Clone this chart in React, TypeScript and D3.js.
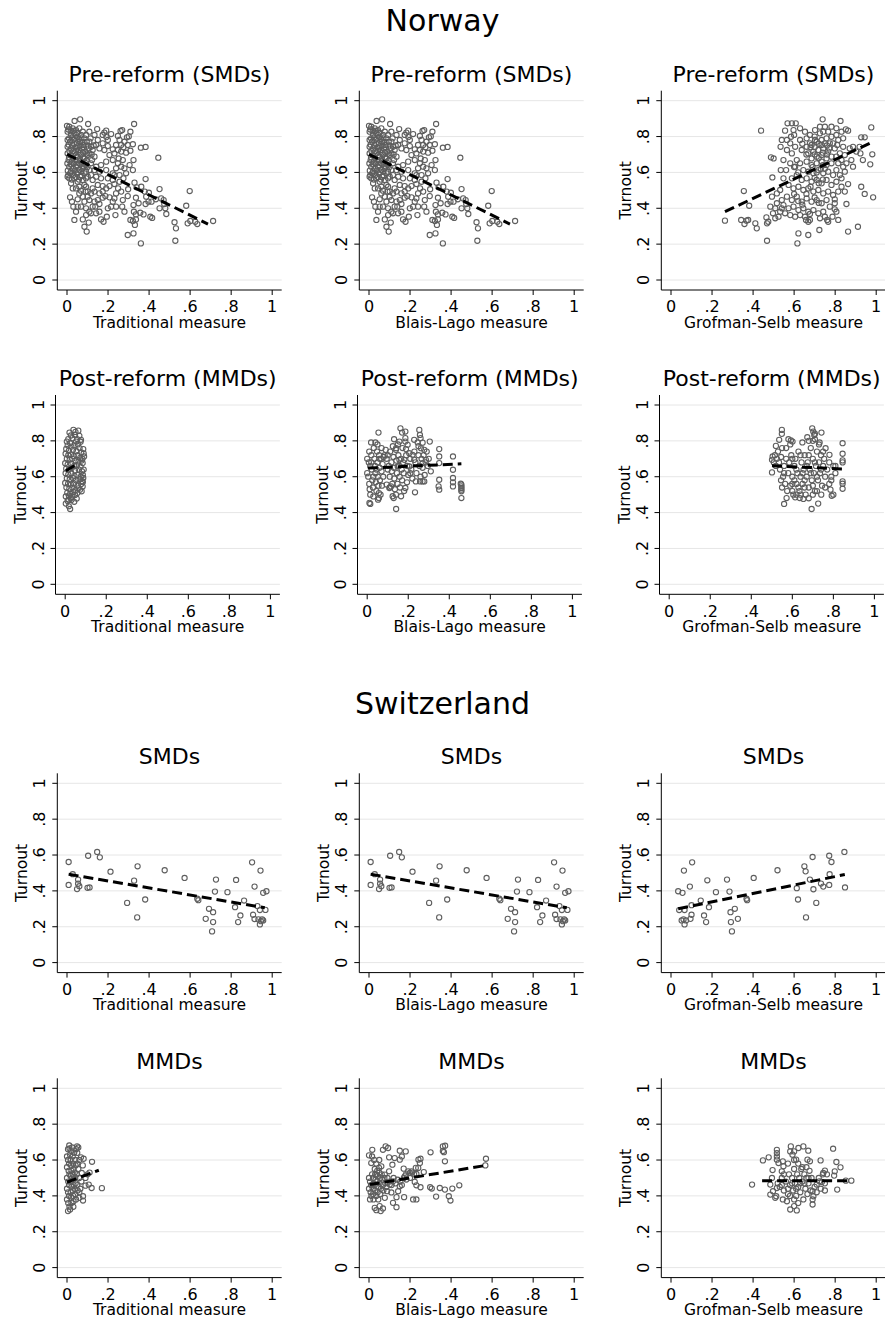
import React from 'react';
import * as d3 from 'd3';

const W = 885, H = 1322;
const FONT = '"DejaVu Sans", Verdana, sans-serif';

const countryTitles = ['Norway', 'Switzerland'];
const rowTitles = ['Pre-reform (SMDs)', 'Post-reform (MMDs)', 'SMDs', 'MMDs'];
const xTitles = ['Traditional measure', 'Blais-Lago measure', 'Grofman-Selb measure'];
const tickValues = [0, 0.2, 0.4, 0.6, 0.8, 1];
const tickLabels = ['0', '.2', '.4', '.6', '.8', '1'];

// ---- data: flat [x, y, x, y, ...] ----
const norPreTrad = [
0.064,0.896,0.037,0.887,0.103,0.870,0.327,0.870,0.147,0.842,0.182,0.822,0.261,0.831,0.269,0.836,0.309,0.827,0.301,0.801,0.292,0.796,0.192,0.797,0.36,0.738,0.383,0.742,0.321,0.757,0.309,0.721,0.324,0.669,0.445,0.682,0.275,0.74,0.288,0.71,0.248,0.725,0.321,0.613,0.288,0.595,0.383,0.563,0.329,0.543,0.362,0.52,0.339,0.517,0.298,0.506,0.379,0.493,0.399,0.487,0.451,0.507,0.598,0.496,0.386,0.465,0.336,0.459,0.296,0.468,0.272,0.446,0.324,0.418,0.349,0.428,0.383,0.424,0.397,0.437,0.412,0.437,0.433,0.45,0.459,0.455,0.471,0.446,0.474,0.424,0.479,0.4,0.484,0.368,0.451,0.4,0.581,0.414,0.326,0.381,0.336,0.366,0.357,0.375,0.373,0.366,0.406,0.353,0.415,0.346,0.336,0.338,0.321,0.329,0.309,0.335,0.331,0.307,0.524,0.322,0.531,0.288,0.528,0.219,0.588,0.316,0.601,0.329,0.625,0.325,0.635,0.312,0.712,0.329,0.296,0.251,0.324,0.26,0.36,0.204,0.096,0.27,0.085,0.297,0.106,0.32,0.036,0.335,0.077,0.338,0.093,0.362,0.109,0.381,0.044,0.381,0.052,0.409,0.142,0.372,0.158,0.381,0.166,0.338,0.178,0.325,0.194,0.353,0.138,0.409,0.158,0.424,0.199,0.4,0.215,0.409,0.236,0.362,0.239,0.409,0.223,0.437,0.231,0.455,0.207,0.461,0.174,0.459,0.134,0.437,0.109,0.446,0.077,0.465,0.015,0.461,0.06,0.483,0.028,0.511,0.02,0.539,0.06,0.52,0.003,0.576,0.011,0.567,0.085,0.53,0.101,0.493,0.125,0.511,0.15,0.53,0.174,0.524,0.191,0.511,0.207,0.524,0.231,0.535,0.249,0.511,0.256,0.548,0.223,0.558,0.199,0.567,0.166,0.567,0.142,0.576,0.117,0.585,0.093,0.567,0.223,0.595,0.191,0.613,0.158,0.604,0.239,0.623,0.248,0.651,0.223,0.669,0.191,0.66,0.166,0.641,0.142,0.632,0.122,0.669,0.093,0.651,0.207,0.697,0.231,0.706,0.182,0.725,0.158,0.734,0.142,0.753,0.174,0.762,0.199,0.747,0.223,0.729,0.239,0.753,0.15,0.781,0.134,0.809,0.109,0.827,0.174,0.809,0.199,0.781,0.191,0.833,
0,0.86,0.011,0.855,0.028,0.846,0.044,0.836,0.06,0.846,0.077,0.827,0.003,0.827,0.02,0.809,0.036,0.818,0.052,0.799,0.068,0.809,0.085,0.79,0.093,0.809,0.003,0.781,0.015,0.771,0.031,0.781,0.047,0.762,0.064,0.771,0.08,0.753,0.096,0.771,0.003,0.743,0.02,0.734,0.041,0.74,0.057,0.725,0.073,0.734,0.09,0.716,0.106,0.734,0.003,0.706,0.02,0.697,0.036,0.706,0.052,0.688,0.068,0.697,0.085,0.678,0.101,0.697,0.008,0.669,0.024,0.66,0.041,0.669,0.057,0.651,0.073,0.66,0.09,0.641,0.011,0.632,0.028,0.623,0.044,0.632,0.06,0.613,0.077,0.623,0.093,0.604,0.015,0.595,0.031,0.585,0.047,0.595,0.064,0.576,0.036,0.567,0.052,0.548,0.109,0.771,0.117,0.743,0.125,0.725,0.109,0.706,0.134,0.688,0.117,0.651,0.134,0.613,0.109,0.613,0.101,0.576,0.077,0.558,0.125,0.558,0.044,0.511,0.068,0.498,0.09,0.493,0.093,0.52,0.117,0.483,0.134,0.493,0.158,0.483,0.174,0.493,0.187,0.468,0.15,0.446,0.125,0.409,0.117,0.372,0.093,0.4,0.068,0.409,0.085,0.437,0.101,0.465,0.052,0.45,0.031,0.409,0.024,0.437,
0.248,0.803,0.215,0.814,0.256,0.781,0.264,0.753,0.28,0.771,0.296,0.753,0.264,0.716,0.252,0.678,0.272,0.669,0.264,0.632,0.28,0.623,0.305,0.641,0.231,0.585,0.256,0.585,0.275,0.567,0.264,0.493,0.239,0.483,0.269,0.409,0.28,0.381,
0.006,0.84,0.018,0.83,0.032,0.832,0.05,0.82,0.07,0.79,0.01,0.79,0.025,0.795,0.04,0.79,0.058,0.785,0.075,0.77,0.008,0.755,0.026,0.752,0.036,0.758,0.05,0.745,0.066,0.75,0.082,0.74,0.012,0.72,0.03,0.718,0.045,0.722,0.062,0.71,0.078,0.712,0.095,0.705,0.01,0.685,0.028,0.68,0.046,0.685,0.062,0.675,0.078,0.68,0.095,0.665,0.002,0.65,0.018,0.645,0.034,0.65,0.05,0.64,0.066,0.645,0.082,0.635,0.004,0.61,0.02,0.605,0.038,0.61,0.054,0.6,0.07,0.605,0.085,0.595,0.006,0.585,0.024,0.56,0.042,0.575,0.058,0.56,0.072,0.58,0.1,0.63,0.1,0.75,0.115,0.79,0.12,0.7,0.13,0.75
];
const norPreBL = norPreTrad;

const norPreGS = [
0.263,0.331,0.342,0.335,0.355,0.496,0.358,0.312,0.368,0.331,0.376,0.335,0.381,0.414,0.411,0.316,0.418,0.288,0.468,0.219,0.439,0.833,0.465,0.349,0.468,0.316,0.474,0.325,0.484,0.409,0.497,0.372,0.494,0.572,0.5,0.678,0.487,0.684,0.492,0.465,0.508,0.344,0.516,0.483,0.524,0.353,0.532,0.381,0.54,0.4,0.535,0.613,0.534,0.743,0.548,0.567,0.561,0.613,0.568,0.874,0.589,0.874,0.608,0.874,0.556,0.833,0.585,0.799,0.6,0.809,0.621,0.26,0.616,0.204,0.669,0.251,0.658,0.335,0.669,0.325,0.677,0.335,0.739,0.896,0.826,0.887,0.852,0.84,0.863,0.833,0.976,0.851,0.927,0.796,0.944,0.796,0.981,0.701,0.935,0.669,0.923,0.706,0.971,0.645,0.927,0.52,0.944,0.48,0.985,0.461,0.847,0.493,0.855,0.424,0.863,0.535,0.815,0.335,0.806,0.381,0.798,0.394,0.766,0.325,0.761,0.335,0.787,0.353,0.798,0.45,0.771,0.734,0.79,0.762,0.81,0.753,0.839,0.743,0.871,0.734,0.887,0.743,0.903,0.716,0.919,0.743,0.831,0.669,0.855,0.651,0.879,0.669,0.887,0.632,0.847,0.604,0.823,0.585,0.806,0.613,0.831,0.567,0.863,0.27,0.911,0.297,0.723,0.279,
0.581,0.762,0.605,0.743,0.629,0.781,0.653,0.827,0.677,0.809,0.702,0.836,0.726,0.818,0.75,0.855,0.766,0.827,0.782,0.855,0.806,0.846,0.831,0.827,0.637,0.725,0.661,0.743,0.685,0.753,0.71,0.771,0.734,0.781,0.758,0.79,0.782,0.799,0.806,0.809,0.669,0.706,0.694,0.716,0.718,0.725,0.742,0.734,0.766,0.716,0.685,0.678,0.71,0.688,0.734,0.697,0.758,0.678,0.782,0.688,0.806,0.688,0.661,0.66,0.685,0.641,0.71,0.651,0.734,0.66,0.758,0.641,0.782,0.651,0.613,0.669,0.589,0.706,0.565,0.725,0.581,0.651,0.605,0.632,0.629,0.651,0.645,0.613,0.669,0.604,0.694,0.595,0.718,0.613,0.742,0.595,0.766,0.604,0.79,0.585,0.613,0.585,0.589,0.567,0.637,0.558,0.661,0.567,0.685,0.548,0.71,0.558,0.734,0.539,0.758,0.558,0.782,0.53,0.573,0.53,0.597,0.511,0.621,0.52,0.645,0.502,0.669,0.511,0.694,0.493,0.718,0.502,0.742,0.483,0.766,0.493,0.79,0.474,0.565,0.465,0.589,0.446,0.613,0.465,0.637,0.437,0.661,0.455,0.685,0.437,0.71,0.446,0.734,0.428,0.758,0.446,0.548,0.418,0.573,0.4,0.597,0.409,0.621,0.39,0.645,0.4,0.669,0.381,0.694,0.39,0.718,0.372,0.742,0.381,0.556,0.372,0.581,0.362,0.605,0.353,0.629,0.362,0.653,0.353,0.677,0.368,0.54,0.446,0.516,0.428,0.508,0.4,0.532,0.502,0.548,0.669,0.565,0.781,0.54,0.781,0.597,0.836,0.629,0.846,0.774,0.762,0.815,0.781,0.839,0.79,0.734,0.753,0.75,0.762,0.702,0.781,0.726,0.855,0.661,0.79,0.677,0.762,0.742,0.827,0.798,0.734,0.823,0.706,0.847,0.697,0.815,0.651,0.839,0.632,0.806,0.548,0.831,0.52,0.815,0.493,0.798,0.428,0.774,0.409,0.75,0.353,0.726,0.344,
0.7,0.74,0.72,0.76,0.74,0.71,0.76,0.75,0.7,0.7,0.72,0.68,0.74,0.64,0.76,0.7,0.69,0.63,0.71,0.6,0.73,0.62,0.75,0.62,0.7,0.57,0.72,0.54,0.74,0.56,0.68,0.52,0.66,0.48,0.7,0.46,0.72,0.43,0.64,0.42,0.62,0.44,0.6,0.48,0.62,0.6,0.6,0.63,0.66,0.7,0.64,0.76,0.7,0.8,0.68,0.74
];

const norPostTrad = [
0.003,0.45,0.018,0.435,0.024,0.42,0.016,0.472,0.027,0.481,0.056,0.478,0.04,0.861,0.064,0.857,0.021,0.846,0.048,0.833,0.069,0.828,0.077,0.806,0.008,0.796,0.024,0.787,0.053,0.796,0.088,0.754,0.092,0.713,0.085,0.676,0.088,0.593,0.085,0.546,0.08,0.519,0.072,0.528,0.059,0.509,0.035,0.815,0.012,0.775,0.03,0.768,0.045,0.775,0.062,0.78,0.07,0.76,0.005,0.755,0.018,0.745,0.038,0.75,0.055,0.742,0.078,0.735,0.002,0.728,0.015,0.72,0.028,0.725,0.042,0.715,0.06,0.72,0.073,0.705,0.008,0.7,0.022,0.695,0.035,0.7,0.05,0.69,0.065,0.685,0.08,0.69,0.0,0.675,0.012,0.668,0.028,0.672,0.044,0.66,0.058,0.665,0.075,0.655,0.005,0.645,0.018,0.64,0.032,0.648,0.048,0.635,0.066,0.64,0.082,0.63,0.002,0.62,0.015,0.612,0.03,0.618,0.045,0.605,0.06,0.61,0.076,0.6,0.008,0.59,0.022,0.585,0.038,0.592,0.052,0.58,0.07,0.585,0.083,0.575,0.0,0.565,0.014,0.56,0.028,0.556,0.044,0.562,0.06,0.55,0.078,0.56,0.006,0.54,0.02,0.532,0.035,0.538,0.05,0.525,0.065,0.535,0.01,0.51,0.025,0.505,0.04,0.515,0.003,0.49,0.018,0.495,0.033,0.488,0.048,0.498,0.012,0.465,0.03,0.47,0.044,0.46,0.086,0.61,0.09,0.64,0.084,0.7,0.09,0.73,0.086,0.57,0.075,0.795,0.058,0.81,0.028,0.83,0.015,0.81,0.05,0.85
];

const norPostBL = [
0.055,0.846,0.015,0.448,0.011,0.454,0.019,0.791,0.04,0.791,0.057,0.509,0.057,0.481,0.053,0.472,0.095,0.556,0.108,0.537,0.116,0.546,0.124,0.491,0.129,0.481,0.141,0.42,0.131,0.809,0.162,0.87,0.17,0.846,0.186,0.852,0.186,0.815,0.186,0.796,0.189,0.754,0.181,0.694,0.165,0.491,0.186,0.537,0.194,0.569,0.229,0.806,0.246,0.791,0.254,0.861,0.257,0.833,0.26,0.815,0.262,0.759,0.233,0.513,0.237,0.574,0.258,0.574,0.27,0.574,0.278,0.574,0.305,0.796,0.278,0.75,0.286,0.694,0.27,0.676,0.221,0.722,0.229,0.694,0.205,0.657,0.351,0.754,0.351,0.713,0.351,0.676,0.351,0.583,0.348,0.546,0.351,0.528,0.418,0.713,0.418,0.639,0.418,0.593,0.418,0.569,0.418,0.546,0.459,0.556,0.459,0.546,0.459,0.537,0.459,0.528,0.459,0.519,0.459,0.481,0.456,0.561,0.157,0.694,0.149,0.657,0.205,0.731,0.197,0.778,0.157,0.796,0.141,0.759,
0.0,0.62,0.005,0.6,0.01,0.56,0.012,0.53,0.015,0.5,0.02,0.72,0.02,0.68,0.022,0.64,0.025,0.58,0.028,0.54,0.03,0.49,0.032,0.76,0.035,0.7,0.038,0.66,0.04,0.62,0.042,0.57,0.045,0.52,0.048,0.74,0.05,0.68,0.052,0.6,0.055,0.55,0.058,0.72,0.06,0.65,0.062,0.58,0.065,0.5,0.068,0.7,0.07,0.63,0.072,0.55,0.075,0.67,0.078,0.6,0.08,0.71,0.01,0.74,0.015,0.66,0.03,0.6,0.045,0.64,0.06,0.7,0.07,0.76,0.05,0.78,0.0,0.7,0.008,0.68,
0.1,0.72,0.105,0.66,0.11,0.6,0.112,0.74,0.118,0.68,0.12,0.63,0.122,0.56,0.125,0.77,0.128,0.71,0.13,0.65,0.132,0.59,0.135,0.53,0.14,0.75,0.142,0.69,0.145,0.62,0.148,0.56,0.15,0.78,0.152,0.72,0.155,0.66,0.158,0.6,0.16,0.54,0.165,0.7,0.168,0.64,0.17,0.58,0.172,0.76,0.175,0.68,0.178,0.62,0.18,0.52,0.11,0.54,0.14,0.5,0.09,0.75,0.095,0.7,0.1,0.64,0.085,0.72,
0.19,0.72,0.195,0.66,0.2,0.61,0.21,0.7,0.215,0.64,0.22,0.59,0.23,0.74,0.235,0.68,0.24,0.62,0.25,0.72,0.255,0.66,0.26,0.6,0.265,0.7,0.27,0.65,0.275,0.72,0.28,0.61,0.285,0.68,0.29,0.74,0.295,0.66,0.3,0.7,0.31,0.63,0.25,0.77,0.27,0.79,0.21,0.62
];

const norPostGS = [
0.501,0.624,0.549,0.861,0.549,0.839,0.536,0.806,0.52,0.772,0.56,0.448,0.581,0.809,0.593,0.802,0.601,0.796,0.572,0.481,0.614,0.485,0.636,0.481,0.654,0.476,0.694,0.42,0.726,0.45,0.697,0.87,0.702,0.852,0.707,0.833,0.71,0.809,0.742,0.846,0.733,0.791,0.673,0.82,0.649,0.791,0.741,0.5,0.762,0.759,0.781,0.722,0.792,0.494,0.786,0.528,0.845,0.787,0.845,0.728,0.845,0.691,0.845,0.68,0.845,0.574,0.845,0.561,0.845,0.533,0.501,0.694,0.504,0.713,
0.51,0.68,0.515,0.72,0.52,0.66,0.525,0.7,0.53,0.74,0.535,0.68,0.54,0.64,0.545,0.71,0.55,0.76,0.555,0.6,0.56,0.66,0.565,0.56,0.57,0.7,0.575,0.52,0.58,0.62,0.585,0.68,0.59,0.55,0.595,0.72,0.6,0.6,0.605,0.5,0.61,0.66,0.615,0.7,0.62,0.56,0.625,0.62,0.63,0.74,0.635,0.52,0.64,0.6,0.645,0.68,0.65,0.56,0.655,0.64,0.66,0.72,0.665,0.5,0.67,0.6,0.675,0.68,0.68,0.54,0.685,0.64,0.69,0.76,0.695,0.58,0.7,0.7,0.705,0.62,0.71,0.52,0.715,0.66,0.72,0.74,0.725,0.58,0.73,0.68,0.735,0.62,0.74,0.72,0.745,0.55,0.75,0.66,0.755,0.7,0.76,0.6,0.77,0.64,0.78,0.68,0.79,0.58,0.8,0.66,0.81,0.62,0.6,0.7,0.61,0.58,0.62,0.64,0.63,0.54,0.64,0.72,0.65,0.62,0.66,0.58,0.67,0.66,0.68,0.72,0.69,0.62,0.7,0.55,0.71,0.68,0.72,0.6,0.73,0.78,0.74,0.64,0.75,0.74,0.7,0.8,0.71,0.84,0.68,0.8,0.59,0.78,0.57,0.76,0.6,0.52,0.62,0.5,0.64,0.5,0.66,0.54,0.68,0.48,0.7,0.5,0.72,0.52,0.76,0.54,0.78,0.56,0.8,0.5,0.79,0.6,0.81,0.66,0.545,0.58,0.55,0.54,0.56,0.62,0.6,0.56
];

const swiSmdTrad = [
0.008,0.561,0.008,0.433,0.028,0.493,0.054,0.463,0.054,0.44,0.06,0.426,0.049,0.41,0.103,0.596,0.10,0.417,0.11,0.419,0.147,0.617,0.16,0.587,0.212,0.507,0.293,0.333,0.327,0.457,0.344,0.537,0.342,0.252,0.381,0.352,0.476,0.515,0.573,0.472,0.635,0.356,0.64,0.348,0.676,0.244,0.692,0.30,0.712,0.281,0.712,0.226,0.707,0.174,0.721,0.396,0.726,0.463,0.782,0.393,0.819,0.309,0.824,0.461,0.834,0.226,0.845,0.263,0.863,0.346,0.902,0.559,0.907,0.267,0.914,0.424,0.914,0.243,0.928,0.315,0.943,0.513,0.94,0.293,0.933,0.241,0.94,0.213,0.951,0.241,0.956,0.235,0.956,0.389,0.972,0.398,0.967,0.294,0.945,0.231
];
const swiSmdBL = swiSmdTrad;

const swiSmdGS = [
0.035,0.398,0.056,0.389,0.063,0.513,0.103,0.559,0.092,0.424,0.04,0.293,0.066,0.293,0.10,0.32,0.052,0.235,0.061,0.241,0.066,0.213,0.073,0.235,0.095,0.244,0.10,0.267,0.145,0.346,0.161,0.263,0.171,0.226,0.177,0.459,0.185,0.309,0.219,0.393,0.273,0.463,0.285,0.396,0.29,0.281,0.292,0.226,0.297,0.174,0.311,0.30,0.326,0.244,0.368,0.356,0.371,0.348,0.403,0.472,0.519,0.515,0.613,0.415,0.619,0.352,0.65,0.537,0.656,0.509,0.658,0.252,0.677,0.463,0.69,0.589,0.694,0.409,0.708,0.333,0.731,0.441,0.742,0.424,0.771,0.596,0.771,0.433,0.773,0.493,0.782,0.561,0.845,0.617,0.848,0.419
];

const swiMmdTrad = [
0.011,0.681,0.049,0.676,0.055,0.67,0.005,0.66,0.02,0.65,0.035,0.64,0.05,0.64,0.068,0.615,0.081,0.607,0.077,0.57,0.122,0.59,0.072,0.528,0.09,0.457,0.106,0.463,0.12,0.444,0.17,0.443,0.078,0.374,0.078,0.398,0.044,0.38,0.06,0.389,0.031,0.339,0.005,0.315,0.015,0.324,0.1,0.52,0.11,0.53,0.09,0.5,0.07,0.48,0.065,0.44,0.06,0.42,0.06,0.5,0.055,0.55,0.06,0.6,
0.0,0.62,0.005,0.6,0.01,0.58,0.0,0.56,0.008,0.54,0.012,0.52,0.0,0.5,0.006,0.48,0.01,0.46,0.0,0.44,0.005,0.42,0.01,0.4,0.0,0.38,0.006,0.36,0.012,0.34,0.015,0.63,0.018,0.6,0.02,0.57,0.022,0.54,0.018,0.51,0.02,0.48,0.022,0.45,0.018,0.42,0.02,0.39,0.022,0.36,0.028,0.62,0.03,0.58,0.032,0.55,0.028,0.52,0.03,0.49,0.032,0.46,0.028,0.43,0.03,0.4,0.032,0.37,0.04,0.6,0.042,0.57,0.038,0.53,0.04,0.5,0.042,0.47,0.038,0.44,0.04,0.41,0.05,0.58,0.048,0.52,0.05,0.46,0.052,0.43,0.045,0.66,0.025,0.67,0.012,0.665
];

const swiMmdBL = [
0.57,0.607,0.567,0.57,0.37,0.435,0.44,0.459,0.406,0.441,0.389,0.398,0.397,0.374,0.345,0.444,0.327,0.396,0.306,0.441,0.298,0.448,0.3,0.643,0.36,0.676,0.371,0.68,0.365,0.644,0.37,0.593,0.36,0.65,0.251,0.607,0.241,0.602,0.248,0.583,0.24,0.556,0.228,0.556,0.231,0.522,0.223,0.478,0.231,0.459,0.215,0.38,0.231,0.38,0.251,0.448,0.267,0.533,0.179,0.648,0.15,0.652,0.15,0.602,0.16,0.62,0.169,0.552,0.171,0.393,0.134,0.393,0.134,0.337,0.117,0.361,0.093,0.667,0.081,0.676,0.068,0.657,0.057,0.315,0.036,0.32,0.028,0.333,0.068,0.33,0.052,0.343,0.016,0.657,0,0.626,0.011,0.583,0.098,0.615,0.114,0.574,0.125,0.611,0.191,0.537,0.199,0.528,0.207,0.537,0.174,0.509,0.182,0.491,0.153,0.481,0.15,0.454,0.142,0.426,0.117,0.481,0.101,0.463,0.088,0.426,0.077,0.389,0.109,0.419,0.098,0.537,0.077,0.519,0.06,0.565,0.049,0.556,0.036,0.519,
0.0,0.5,0.005,0.48,0.01,0.46,0.0,0.44,0.008,0.42,0.012,0.4,0.005,0.38,0.015,0.52,0.02,0.5,0.022,0.47,0.018,0.44,0.02,0.41,0.022,0.38,0.028,0.55,0.03,0.52,0.032,0.49,0.028,0.46,0.03,0.43,0.035,0.4,0.04,0.54,0.042,0.51,0.04,0.48,0.045,0.45,0.042,0.42,0.045,0.38,0.05,0.53,0.055,0.5,0.052,0.47,0.058,0.44,0.055,0.41,0.062,0.52,0.065,0.49,0.068,0.46,0.07,0.43,0.075,0.5,0.08,0.47,0.085,0.45,0.09,0.5,0.1,0.48,0.11,0.46,0.12,0.5,0.13,0.47,0.14,0.49,0.16,0.46,0.17,0.5,0.18,0.52,0.2,0.5,0.21,0.53,0.22,0.52,0.025,0.6,0.035,0.58,0.05,0.6,0.015,0.62
];

const swiMmdGS = [
0.395,0.463,0.448,0.598,0.476,0.615,0.495,0.544,0.492,0.5,0.484,0.463,0.497,0.426,0.513,0.398,0.516,0.657,0.516,0.639,0.516,0.62,0.516,0.602,0.524,0.583,0.545,0.593,0.548,0.565,0.54,0.537,0.584,0.676,0.581,0.648,0.592,0.63,0.6,0.648,0.61,0.602,0.621,0.667,0.645,0.676,0.669,0.652,0.677,0.593,0.665,0.602,0.581,0.324,0.613,0.319,0.6,0.343,0.69,0.352,0.729,0.598,0.742,0.528,0.75,0.541,0.79,0.663,0.806,0.589,0.826,0.559,0.798,0.537,0.795,0.513,0.81,0.435,0.852,0.485,0.879,0.485,0.75,0.43,0.723,0.481,0.735,0.478,0.71,0.463,0.694,0.398,0.69,0.426,0.484,0.407,0.508,0.389,0.545,0.38,0.565,0.37,0.516,0.444,
0.52,0.47,0.53,0.45,0.54,0.5,0.55,0.43,0.56,0.48,0.57,0.41,0.575,0.52,0.58,0.46,0.59,0.5,0.595,0.43,0.6,0.55,0.605,0.47,0.61,0.4,0.615,0.52,0.62,0.45,0.625,0.5,0.63,0.42,0.635,0.55,0.64,0.48,0.645,0.38,0.65,0.52,0.655,0.44,0.66,0.5,0.665,0.41,0.67,0.47,0.675,0.54,0.68,0.43,0.685,0.5,0.69,0.38,0.6,0.38,0.62,0.36,0.58,0.4,0.64,0.56,0.66,0.56,0.62,0.58,0.6,0.6,0.57,0.58,0.55,0.52,0.54,0.46,0.63,0.47,0.61,0.44,0.59,0.47,0.57,0.44,0.65,0.47,0.67,0.5,0.7,0.45,0.72,0.5,0.74,0.52,0.75,0.47,0.76,0.52,0.73,0.44,0.71,0.42
];

// ---- fitted lines: [x0, y0, x1, y1] ----
const fitNorPreTrad = [0, 0.701, 0.687, 0.312];
const fitNorPreBL = [0, 0.701, 0.687, 0.312];
const fitNorPreGS = [0.263, 0.381, 0.984, 0.771];
const fitNorPostTrad = [0.003, 0.633, 0.06, 0.672];
const fitNorPostBL = [0.003, 0.648, 0.459, 0.672];
const fitNorPostGS = [0.501, 0.661, 0.847, 0.643];
const fitSwiSmdTrad = [0.008, 0.493, 0.964, 0.306];
const fitSwiSmdBL = [0.008, 0.493, 0.964, 0.306];
const fitSwiSmdGS = [0.035, 0.30, 0.847, 0.491];
const fitSwiMmdTrad = [0, 0.476, 0.155, 0.543];
const fitSwiMmdBL = [0.003, 0.463, 0.565, 0.569];
const fitSwiMmdGS = [0.444, 0.485, 0.871, 0.485];

const panelData = [
  [norPreTrad, norPreBL, norPreGS],
  [norPostTrad, norPostBL, norPostGS],
  [swiSmdTrad, swiSmdBL, swiSmdGS],
  [swiMmdTrad, swiMmdBL, swiMmdGS],
];
const panelFits = [
  [fitNorPreTrad, fitNorPreBL, fitNorPreGS],
  [fitNorPostTrad, fitNorPostBL, fitNorPostGS],
  [fitSwiSmdTrad, fitSwiSmdBL, fitSwiSmdGS],
  [fitSwiMmdTrad, fitSwiMmdBL, fitSwiMmdGS],
];

// ---- layout ----
const ROW_T = [90.7, 395, 773.3, 1078.3];
const ROW_DX = [0, -1.8, 0, 0];
const COL_L = [57.3, 359.3, 661.3];
const PW = 224.4, PH = 199.3;
const COUNTRY_Y = [31, 714];

function toPairs(a: number[]) {
  const out: [number, number][] = [];
  for (let i = 0; i + 1 < a.length; i += 2) out.push([a[i], a[i + 1]]);
  return out;
}

function Panel({ row, col }: { row: number; col: number }) {
  const L = COL_L[col] + ROW_DX[row];
  const T = ROW_T[row];
  const x = d3.scaleLinear().domain([0, 1]).range([L + 9.7, L + 214.9]);
  const y = d3.scaleLinear().domain([0, 1]).range([T + 189.3, T + 10]);
  const pts = toPairs(panelData[row][col]);
  const f = panelFits[row][col];
  const line = d3.line<[number, number]>().x(d => x(d[0])).y(d => y(d[1]));
  const fitPath = line([[f[0], f[1]], [f[2], f[3]]]) || '';
  const bottom = T + PH;
  return (
    <g>
      {tickValues.map((t, i) => (
        <line key={'g' + i} x1={L} x2={L + PW} y1={y(t)} y2={y(t)} stroke="#e6e6e6" strokeWidth={1} />
      ))}
      {pts.map((p, i) => (
        <circle key={i} cx={x(p[0])} cy={y(p[1])} r={2.6} fill="none" stroke="#5e5e5e" strokeWidth={1.1} />
      ))}
      <path d={fitPath} fill="none" stroke="#000" strokeWidth={3} strokeDasharray="10 5" />
      <line x1={L} x2={L} y1={T} y2={bottom} stroke="#000" strokeWidth={1} />
      <line x1={L} x2={L + PW} y1={bottom} y2={bottom} stroke="#000" strokeWidth={1} />
      {tickValues.map((t, i) => (
        <g key={'yt' + i}>
          <line x1={L - 5} x2={L} y1={y(t)} y2={y(t)} stroke="#000" strokeWidth={1} />
          <text transform={`translate(${L - 12},${y(t)}) rotate(-90)`} textAnchor="middle" fontSize={16} fontFamily={FONT} fill="#000">{tickLabels[i]}</text>
        </g>
      ))}
      {tickValues.map((t, i) => (
        <g key={'xt' + i}>
          <line x1={x(t)} x2={x(t)} y1={bottom} y2={bottom + 5} stroke="#000" strokeWidth={1} />
          <text x={x(t)} y={bottom + 22.3} textAnchor="middle" fontSize={16} fontFamily={FONT} fill="#000">{tickLabels[i]}</text>
        </g>
      ))}
      <text x={L + PW / 2} y={bottom + 37.7} textAnchor="middle" fontSize={15.5} fontFamily={FONT} fill="#000">{xTitles[col]}</text>
      <text transform={`translate(${L - 30},${(y(0) + y(1)) / 2}) rotate(-90)`} textAnchor="middle" fontSize={15.5} fontFamily={FONT} fill="#000">Turnout</text>
      <text x={L + PW / 2} y={T - 9} textAnchor="middle" fontSize={22} fontFamily={FONT} fill="#000">{rowTitles[row]}</text>
    </g>
  );
}

export default function App() {
  const rows = [0, 1, 2, 3];
  const cols = [0, 1, 2];
  return (
    <svg width={W} height={H} style={{ position: 'absolute', left: 0, top: 0, display: 'block', background: '#fff' }}>
      <rect x={0} y={0} width={W} height={H} fill="#fff" />
      {countryTitles.map((t, i) => (
        <text key={t} x={W / 2} y={COUNTRY_Y[i]} textAnchor="middle" fontSize={30} fontFamily={FONT} fill="#000">{t}</text>
      ))}
      {rows.map(r => cols.map(c => <Panel key={r + '-' + c} row={r} col={c} />))}
    </svg>
  );
}
